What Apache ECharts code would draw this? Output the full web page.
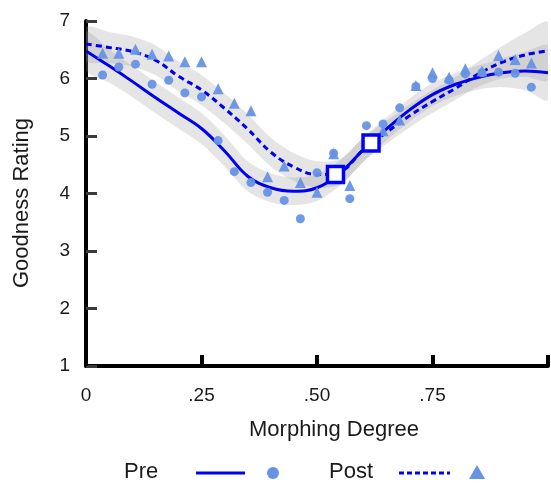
<!DOCTYPE html>
<html><head><meta charset="utf-8">
<script src="https://cdn.jsdelivr.net/npm/echarts@6/dist/echarts.min.js"></script>
<style>html,body{margin:0;padding:0;background:#fff}#c{width:551px;height:483px}</style>
</head><body><div id="c"></div>
<script>
// x-axis ticks and their labels
const xTickLabels = {0: '0', 0.25: '.25', 0.5: '.50', 0.75: '.75'};
// smoothed fit curves
const fitX = [0, 0.05, 0.1, 0.15, 0.2, 0.25, 0.3, 0.35, 0.4, 0.45, 0.5, 0.55, 0.6, 0.65, 0.7, 0.75, 0.8, 0.85, 0.9, 0.95, 1];
const preFit = [6.48, 6.22, 5.95, 5.67, 5.4, 5.13, 4.74, 4.3, 4.1, 4.04, 4.1, 4.36, 4.76, 5.12, 5.45, 5.72, 5.9, 6.02, 6.1, 6.13, 6.1];
const postFit = [6.6, 6.54, 6.47, 6.32, 6.04, 5.8, 5.48, 5.12, 4.72, 4.46, 4.33, 4.38, 4.76, 5.06, 5.35, 5.6, 5.83, 6.08, 6.28, 6.41, 6.48];
// confidence band half-widths
const preCI = [0.33, 0.29, 0.27, 0.27, 0.27, 0.27, 0.27, 0.26, 0.25, 0.24, 0.23, 0.22, 0.21, 0.2, 0.2, 0.2, 0.2, 0.21, 0.25, 0.33, 0.47];
const postCI = [0.29, 0.27, 0.26, 0.26, 0.26, 0.26, 0.26, 0.26, 0.25, 0.24, 0.23, 0.22, 0.21, 0.2, 0.2, 0.2, 0.2, 0.22, 0.28, 0.38, 0.5];
// observed means
const pointX = [0.036, 0.071, 0.107, 0.143, 0.179, 0.214, 0.25, 0.286, 0.321, 0.357, 0.393, 0.429, 0.464, 0.5, 0.536, 0.571, 0.607, 0.643, 0.679, 0.714, 0.75, 0.786, 0.821, 0.857, 0.893, 0.929, 0.964];
const prePoints = [6.06, 6.2, 6.25, 5.9, 5.97, 5.75, 5.68, 4.92, 4.38, 4.19, 4.02, 3.88, 3.56, 4.36, 4.7, 3.91, 5.18, 5.21, 5.49, 5.86, 6.0, 5.97, 6.08, 6.1, 6.11, 6.09, 5.85];
const postPoints = [6.44, 6.44, 6.51, 6.42, 6.39, 6.29, 6.29, 5.82, 5.57, 5.44, 4.29, 4.48, 4.19, 4.02, 4.69, 4.14, 4.9, 5.09, 5.28, 5.88, 6.1, 6.02, 6.17, 6.13, 6.4, 6.33, 6.27];
// category boundaries (squares)
const boundaryX = [0.54, 0.617];
const boundaryY = [4.33, 4.88];

const FONT = 'Liberation Sans, Arial, sans-serif';
const LINE_BLUE = '#0000f0';
const PT_BLUE = '#6793e6';
const TXT = '#1a1a1a';

function band(fit, ci) {
  return {
    type: 'custom', silent: true, z: 1, clip: true,
    data: [[0, fit[0]]],
    renderItem: function (params, api) {
      const up = [], lo = [];
      for (let i = 0; i < fitX.length; i++) {
        up.push(api.coord([fitX[i], fit[i] + ci[i]]));
        lo.push(api.coord([fitX[i], fit[i] - ci[i]]));
      }
      return {
        type: 'polygon',
        shape: { points: up.concat(lo.reverse()), smooth: 0.3 },
        style: { fill: 'rgba(150,150,150,0.25)' }
      };
    }
  };
}

const chart = echarts.init(document.getElementById('c'));
chart.setOption({
  animation: false,
  grid: { left: 86, right: -3, top: 21, bottom: 117 },
  xAxis: {
    type: 'value', min: 0, max: 1, interval: 0.25,
    splitLine: { show: false },
    axisLine: { show: true, lineStyle: { color: '#000', width: 4 } },
    axisTick: { show: true, inside: true, length: 11, lineStyle: { color: '#000', width: 4 } },
    axisLabel: {
      margin: 20, fontSize: 19, color: TXT, fontFamily: FONT,
      formatter: function (v) { return xTickLabels[v] !== undefined ? xTickLabels[v] : ''; }
    }
  },
  yAxis: {
    type: 'value', min: 1, max: 7, interval: 1,
    splitLine: { show: false },
    axisLine: { show: true, lineStyle: { color: '#000', width: 4 } },
    axisTick: { show: true, inside: true, length: 11, lineStyle: { color: '#3a3a3a', width: 3 } },
    axisLabel: { margin: 16, fontSize: 19, color: TXT, fontFamily: FONT }
  },
  graphic: [
    { type: 'text', x: 22, y: 203, rotation: Math.PI / 2,
      style: { text: 'Goodness Rating', fontSize: 22, fontFamily: FONT, fill: TXT, align: 'center', verticalAlign: 'middle' } },
    { type: 'text', x: 334, y: 430,
      style: { text: 'Morphing Degree', fontSize: 22, fontFamily: FONT, fill: TXT, align: 'center', verticalAlign: 'middle' } },
    { type: 'text', x: 124, y: 472,
      style: { text: 'Pre', fontSize: 22, fontFamily: FONT, fill: TXT, align: 'left', verticalAlign: 'middle' } },
    { type: 'line', shape: { x1: 196, y1: 473, x2: 245, y2: 473 }, style: { stroke: LINE_BLUE, lineWidth: 3 } },
    { type: 'circle', shape: { cx: 273, cy: 473, r: 6 }, style: { fill: PT_BLUE } },
    { type: 'text', x: 329, y: 472,
      style: { text: 'Post', fontSize: 22, fontFamily: FONT, fill: TXT, align: 'left', verticalAlign: 'middle' } },
    { type: 'line', shape: { x1: 399, y1: 473, x2: 450, y2: 473 }, style: { stroke: LINE_BLUE, lineWidth: 3, lineDash: [5, 3] } },
    { type: 'polygon', shape: { points: [[477, 465], [485, 479], [469, 479]] }, style: { fill: PT_BLUE } }
  ],
  series: [
    band(preFit, preCI),
    band(postFit, postCI),
    {
      type: 'line', name: 'Pre fit', z: 3, smooth: 0.4, showSymbol: false, silent: true,
      data: fitX.map((x, i) => [x, preFit[i]]),
      lineStyle: { color: LINE_BLUE, width: 3 }
    },
    {
      type: 'line', name: 'Post fit', z: 3, smooth: 0.4, showSymbol: false, silent: true,
      data: fitX.map((x, i) => [x, postFit[i]]),
      lineStyle: { color: LINE_BLUE, width: 3, type: [6, 4] }
    },
    {
      type: 'scatter', name: 'Pre', z: 4, symbol: 'circle', symbolSize: 9,
      data: pointX.map((x, i) => [x, prePoints[i]]),
      itemStyle: { color: PT_BLUE, opacity: 0.95 }
    },
    {
      type: 'scatter', name: 'Post', z: 4, symbol: 'triangle', symbolSize: 11,
      data: pointX.map((x, i) => [x, postPoints[i]]),
      itemStyle: { color: PT_BLUE, opacity: 0.95 }
    },
    {
      type: 'scatter', name: 'Boundary', z: 5, symbol: 'rect', symbolSize: 16, silent: true,
      data: boundaryX.map((x, i) => [x, boundaryY[i]]),
      itemStyle: { color: '#ffffff', borderColor: '#0000ff', borderWidth: 3.5, opacity: 1 }
    }
  ]
});
</script>
</body></html>
